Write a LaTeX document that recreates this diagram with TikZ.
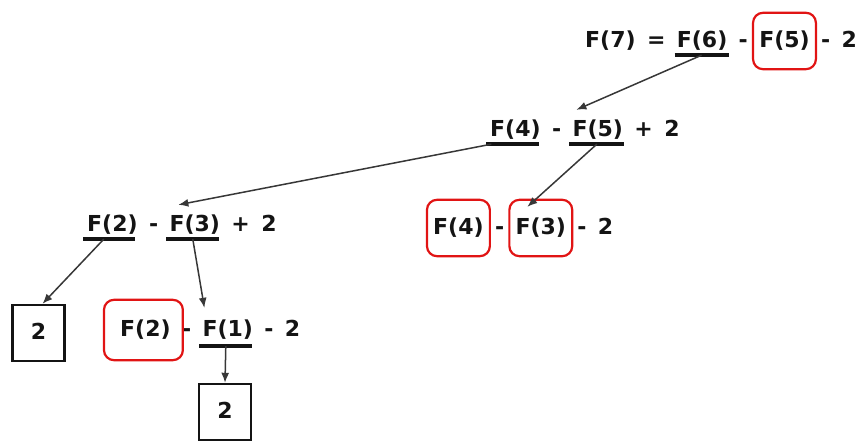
\documentclass[tikz,border=0pt]{standalone}
\usepackage{fontspec}
\setmainfont{DejaVu Sans}
\usetikzlibrary{arrows.meta,positioning,fit}
\definecolor{ink}{RGB}{20,20,20}
\definecolor{wire}{RGB}{55,55,55}
\definecolor{mark}{RGB}{225,20,20}
\tikzset{
  tm/.style={inner sep=0pt,text height=17pt,text depth=3pt,
    font=\fontsize{22}{26}\selectfont\bfseries,text=ink},
  ul/.style={draw=ink,line width=3.5pt},
  hl/.style={draw=mark,line width=2.2pt,rounded corners=10pt,
    inner xsep=6pt,inner ysep=18pt},
  bx/.style={tm,draw=ink,line width=2.4pt,minimum width=52pt,minimum height=56pt},
}

\begin{document}
\begin{tikzpicture}[x=1pt,y=-1pt,node distance=11pt,
  fl/.style={-{Latex[length=10pt,width=8pt]},draw=wire,line width=1.5pt}]
  \useasboundingbox (0,0) rectangle (857,443);
  % top line
  \node[tm,anchor=west] (r1f7) at (585,41) {F(7)};
  \node[tm,right=of r1f7] (r1eq) {=};
  \node[tm,right=of r1eq] (r1f6) {F(6)};
  \node[tm,right=of r1f6] (r1m) {-};
  \node[tm,right=of r1m] (r1f5) {F(5)};
  \node[tm,right=of r1f5] (r1n) {-};
  \node[tm,right=of r1n] (r1c) {2};
  % second line
  \node[tm,anchor=west] (r2f4) at (490,130) {F(4)};
  \node[tm,right=of r2f4] (r2m) {-};
  \node[tm,right=of r2m] (r2f5) {F(5)};
  \node[tm,right=of r2f5] (r2p) {+};
  \node[tm,right=of r2p] (r2c) {2};
  % third line, left
  \node[tm,anchor=west] (r3f2) at (87,225) {F(2)};
  \node[tm,right=of r3f2] (r3m) {-};
  \node[tm,right=of r3m] (r3f3) {F(3)};
  \node[tm,right=of r3f3] (r3p) {+};
  \node[tm,right=of r3p] (r3c) {2};
  % third line, right
  \node[tm,anchor=west] (q3f4) at (433,228) {F(4)};
  \node[tm,right=of q3f4] (q3m) {-};
  \node[tm,right=of q3m] (q3f3) {F(3)};
  \node[tm,right=of q3f3] (q3n) {-};
  \node[tm,right=of q3n] (q3c) {2};
  % fourth line
  \node[tm,anchor=west] (r4f2) at (120,330) {F(2)};
  \node[tm,right=of r4f2] (r4m) {-};
  \node[tm,right=of r4m] (r4f1) {F(1)};
  \node[tm,right=of r4f1] (r4n) {-};
  \node[tm,right=of r4n] (r4c) {2};
  % base cases
  \node[bx] (lb) at (38.5,333) {2};
  \node[bx] (bb) at (225,412) {2};
  % underlines
  \draw[ul] ([shift={(-2pt,-4pt)}]r1f6.south west) -- coordinate (u6) ([shift={(1pt,-4pt)}]r1f6.south east);
  \draw[ul] ([shift={(-4pt,-4pt)}]r2f4.south west) -- coordinate[pos=.1] (u4) ([shift={(-2pt,-4pt)}]r2f4.south east);
  \draw[ul] ([shift={(-3pt,-4pt)}]r2f5.south west) -- coordinate (u5) ([shift={(1pt,-4pt)}]r2f5.south east);
  \draw[ul] ([shift={(-4pt,-4pt)}]r3f2.south west) -- coordinate[pos=.4] (u2) ([shift={(-3pt,-4pt)}]r3f2.south east);
  \draw[ul] ([shift={(-3pt,-4pt)}]r3f3.south west) -- coordinate (u3) ([shift={(-1pt,-4pt)}]r3f3.south east);
  \draw[ul] ([shift={(-3pt,-6pt)}]r4f1.south west) -- coordinate (u1) ([shift={(-1pt,-6pt)}]r4f1.south east);
  % marked calls
  \node[hl,fit=(r1f5)] (k1) {};
  \node[hl,fit=(q3f4)] (k2) {};
  \node[hl,fit=(q3f3)] (k3) {};
  \node[hl,inner xsep=14pt,inner ysep=20pt,xshift=-2pt,fit=(r4f2)] (k4) {};
  % calls
  \draw[fl] (u6) -- ([shift={(4pt,10pt)}]r2f5.north west);
  \draw[fl] (u4) -- ([shift={(9pt,10pt)}]r3f3.north west);
  \draw[fl] (u5) -- ([shift={(12pt,11pt)}]q3f3.north west);
  \draw[fl] (u2) -- ([xshift=4pt]lb.north);
  \draw[fl] (u3) -- ([shift={(2pt,12pt)}]r4f1.north west);
  \draw[fl] (u1) -- (bb.north);
\end{tikzpicture}
\end{document}
